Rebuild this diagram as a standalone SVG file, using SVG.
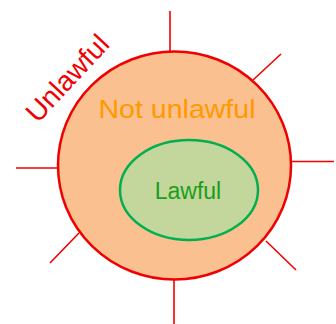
<svg xmlns="http://www.w3.org/2000/svg" width="336" height="324" viewBox="0 0 336 324">
<style>
.ray{stroke:#f00000;stroke-width:1.6;fill:none}
.t{font-family:"Liberation Sans",Arial,sans-serif}
</style>
<rect width="336" height="324" fill="#fff"/>
<g id="connectors">
<line class="ray" x1="170" y1="11" x2="170" y2="52"/>
<line class="ray" x1="253" y1="80" x2="281" y2="54"/>
<line class="ray" x1="291" y1="161.5" x2="334" y2="161.5"/>
<line class="ray" x1="266" y1="241" x2="296" y2="270"/>
<line class="ray" x1="174" y1="280" x2="174" y2="324"/>
<line class="ray" x1="79" y1="233" x2="50" y2="263"/>
<line class="ray" x1="16" y1="168" x2="58" y2="168"/>
</g>
<g id="unlawful">
<ellipse cx="174.5" cy="165.5" rx="116.5" ry="114" fill="#fac090" stroke="#f00000" stroke-width="2.5"/>
<text class="t" x="67" y="88" font-size="28" fill="#f00000" text-anchor="middle" transform="rotate(-47 67 78)">Unlawful</text>
</g>
<g id="not-unlawful">
<text class="t" x="177" y="118" font-size="25.5" fill="#ff9900" text-anchor="middle" textLength="157" lengthAdjust="spacingAndGlyphs">Not unlawful</text>
</g>
<g id="lawful">
<ellipse cx="189" cy="190" rx="69" ry="50" fill="#c3d69b" stroke="#00b050" stroke-width="2.5"/>
<text class="t" x="188" y="199" font-size="23" fill="#1a9e1a" text-anchor="middle">Lawful</text>
</g>
</svg>
